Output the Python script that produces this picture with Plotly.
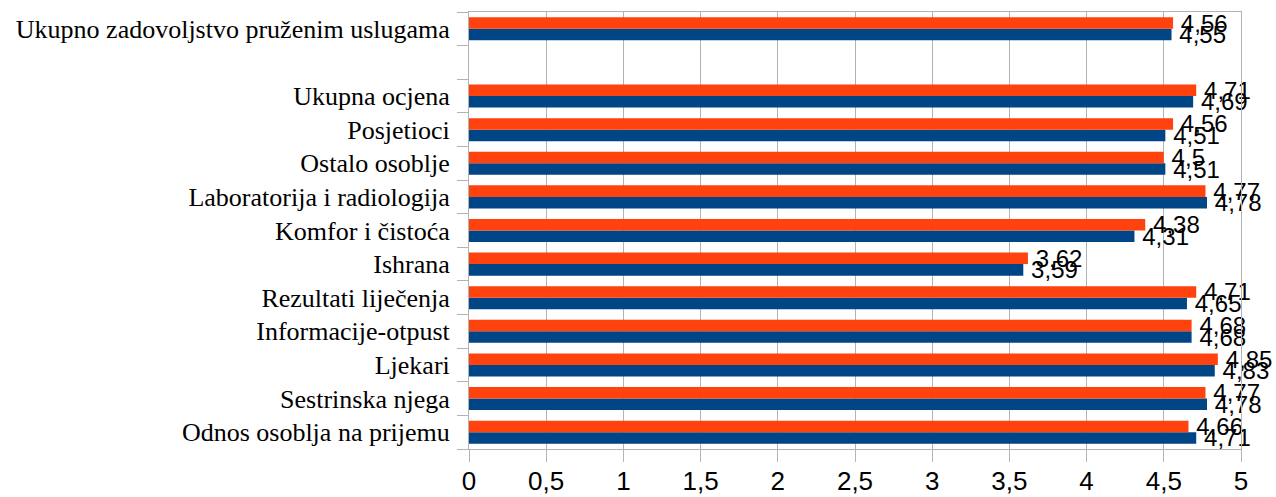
import plotly.graph_objects as go

# Categories listed bottom-to-top; the empty entry separates the overall score row
categories = [
    "Odnos osoblja na prijemu",
    "Sestrinska njega",
    "Ljekari",
    "Informacije-otpust",
    "Rezultati liječenja",
    "Ishrana",
    "Komfor i čistoća",
    "Laboratorija i radiologija",
    "Ostalo osoblje",
    "Posjetioci",
    "Ukupna ocjena",
    " ",
    "Ukupno zadovoljstvo pruženim uslugama",
]

series_1 = [4.71, 4.78, 4.83, 4.68, 4.65, 3.59, 4.31, 4.78, 4.51, 4.51, 4.69, None, 4.55]
series_2 = [4.66, 4.77, 4.85, 4.68, 4.71, 3.62, 4.38, 4.77, 4.50, 4.56, 4.71, None, 4.56]

x_ticks = [0, 0.5, 1, 1.5, 2, 2.5, 3, 3.5, 4, 4.5, 5]


def label(v):
    # decimal comma, with a thin lead-in gap from the bar end
    return "" if v is None else "\u2009" + f"{v:g}".replace(".", ",")


GRID = "#b3b3b3"
SANS = "Liberation Sans, Arial, sans-serif"

fig = go.Figure()
for name, vals, color in [("Serija 1", series_1, "#004586"), ("Serija 2", series_2, "#ff420e")]:
    fig.add_trace(go.Bar(
        name=name,
        y=categories,
        x=vals,
        orientation="h",
        marker=dict(color=color, line=dict(width=0)),
        text=[label(v) for v in vals],
        textposition="outside",
        textfont=dict(family=SANS, size=24, color="black"),
        constraintext="none",
        cliponaxis=False,
        showlegend=False,
    ))

fig.update_layout(
    width=1276,
    height=497,
    margin=dict(l=469, r=35, t=12, b=48),
    paper_bgcolor="white",
    plot_bgcolor="white",
    barmode="group",
    bargap=0.315,
    bargroupgap=0,
    separators=", ",
    xaxis=dict(
        range=[0, 5],
        tickvals=x_ticks,
        tickfont=dict(family=SANS, size=26, color="black"),
        showgrid=True,
        gridcolor=GRID,
        gridwidth=1,
        zeroline=False,
        showline=True,
        linecolor=GRID,
        linewidth=1,
        mirror=True,
        ticks="outside",
        ticklen=12,
        tickcolor=GRID,
        ticklabelstandoff=-3,
        automargin=False,
    ),
    yaxis=dict(
        type="category",
        categoryorder="array",
        categoryarray=categories,
        tickfont=dict(family="Liberation Serif, Times New Roman, serif", size=26, color="black"),
        showgrid=False,
        zeroline=False,
        showline=True,
        linecolor=GRID,
        linewidth=1,
        mirror=True,
        ticks="outside",
        tickson="boundaries",
        ticklen=11,
        tickcolor=GRID,
        ticklabelstandoff=13,
        automargin=False,
    ),
)

fig.write_html("out.html")
